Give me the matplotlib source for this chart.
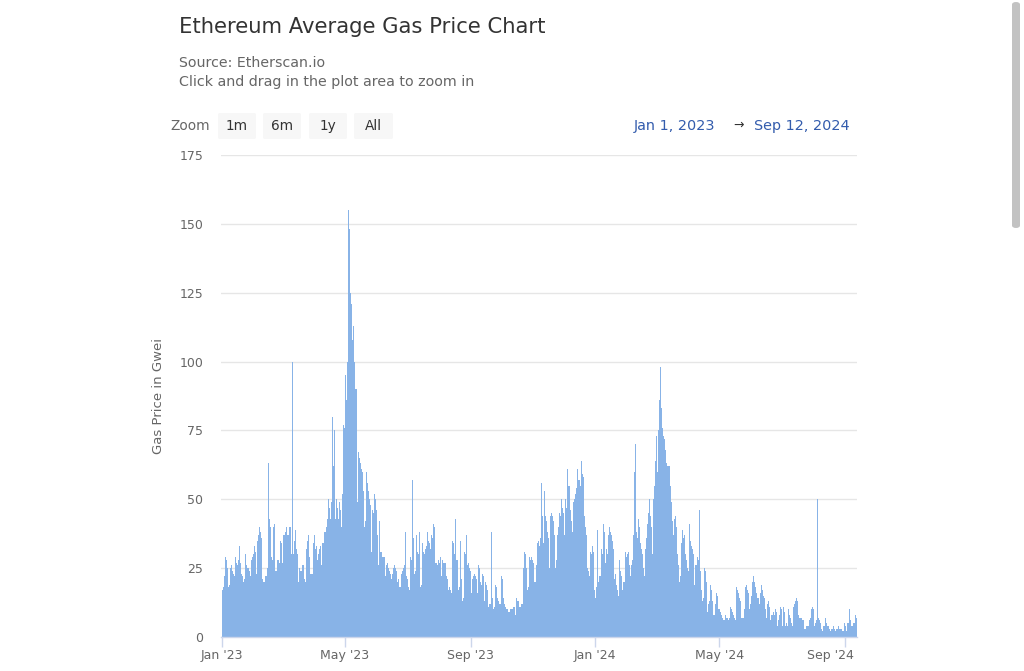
import numpy as np
import matplotlib
matplotlib.use("Agg")
import matplotlib.pyplot as plt
import matplotlib.dates as mdates
from matplotlib.patches import FancyBboxPatch
from matplotlib.transforms import offset_copy

# ---------------- data (daily average gas price, Gwei) ----------------
start_date = "2023-01-01"
end_date = "2024-09-13"  # exclusive

gas_2023 = [
    17, 18, 22, 29, 28, 25, 18, 19, 25, 26,
    24, 23, 22, 29, 27, 26, 28, 33, 27, 23,
    22, 20, 21, 30, 26, 25, 25, 24, 22, 28,
    29, 30, 33, 31, 23, 35, 37, 40, 38, 36,
    21, 20, 20, 22, 25, 63, 43, 40, 29, 28,
    40, 41, 24, 24, 28, 28, 27, 35, 34, 27,
    37, 37, 38, 40, 37, 37, 40, 40, 30, 100,
    30, 35, 39, 32, 30, 20, 25, 24, 24, 26,
    26, 21, 20, 32, 35, 37, 29, 23, 23, 34,
    37, 32, 33, 28, 30, 32, 33, 26, 34, 34,
    38, 38, 40, 43, 50, 47, 43, 49, 80, 62,
    75, 43, 50, 47, 43, 49, 46, 40, 52, 77,
    76, 95, 86, 100, 155, 148, 125, 121, 108, 113,
    100, 90, 49, 67, 65, 63, 61, 60, 53, 40,
    42, 60, 56, 53, 50, 48, 31, 46, 45, 52,
    50, 46, 37, 26, 42, 31, 31, 29, 29, 29,
    22, 26, 27, 25, 24, 23, 21, 23, 25, 26,
    25, 24, 20, 21, 18, 23, 24, 25, 26, 38,
    22, 21, 18, 17, 29, 28, 57, 36, 23, 24,
    37, 31, 30, 38, 18, 19, 34, 31, 30, 32,
    33, 38, 35, 34, 32, 37, 36, 41, 40, 27,
    27, 26, 28, 27, 29, 22, 28, 27, 27, 22,
    21, 17, 18, 17, 16, 35, 34, 30, 43, 28,
    28, 17, 18, 35, 21, 13, 14, 31, 30, 37,
    26, 27, 25, 24, 16, 21, 22, 23, 22, 21,
    16, 26, 25, 20, 19, 23, 22, 13, 20, 19,
    17, 11, 12, 38, 14, 10, 11, 19, 18, 14,
    13, 12, 12, 22, 21, 14, 12, 11, 10, 10,
    9, 9, 10, 10, 10, 11, 11, 8, 14, 13,
    13, 11, 11, 12, 12, 25, 31, 30, 25, 17,
    18, 29, 28, 29, 28, 27, 20, 26, 34, 35,
    33, 36, 56, 44, 34, 53, 44, 42, 38, 36,
    25, 44, 45, 44, 42, 37, 25, 28, 37, 40,
    45, 44, 50, 47, 45, 37, 50, 47, 61, 55,
    55, 46, 42, 38, 49, 50, 52, 54, 61, 57,
    55, 64, 59, 58, 44, 40, 37, 25, 24, 22,
    31, 30, 33, 31, 17,
]

gas_2024 = [
    14, 18, 39, 20, 22,
    22, 32, 30, 41, 38, 27, 32, 30, 37, 40,
    38, 37, 35, 32, 21, 23, 19, 17, 15, 28,
    24, 22, 17, 20, 31, 29, 30, 31, 26, 22,
    26, 28, 37, 60, 70, 38, 36, 43, 40, 34,
    32, 30, 25, 22, 32, 36, 41, 45, 50, 44,
    40, 30, 50, 55, 64, 73, 60, 75, 86, 98,
    83, 76, 73, 72, 68, 63, 62, 62, 55, 49,
    42, 37, 43, 44, 40, 30, 26, 20, 22, 34,
    39, 36, 37, 30, 28, 25, 24, 41, 35, 33,
    32, 30, 19, 26, 26, 29, 28, 46, 24, 17,
    13, 14, 25, 24, 20, 9, 12, 13, 19, 17,
    13, 8, 12, 16, 15, 10, 10, 9, 8, 7,
    6, 6, 8, 7, 7, 6, 7, 11, 10, 9,
    8, 7, 6, 18, 17, 16, 14, 13, 7, 7,
    7, 10, 18, 19, 17, 16, 10, 12, 15, 20,
    22, 20, 18, 16, 14, 12, 16, 19, 17, 15,
    14, 10, 7, 12, 13, 11, 6, 8, 8, 9,
    8, 10, 9, 4, 6, 8, 11, 10, 4, 11,
    9, 4, 5, 4, 10, 8, 7, 5, 4, 11,
    12, 13, 14, 13, 8, 7, 7, 7, 6, 3,
    3, 4, 4, 4, 6, 7, 10, 11, 10, 4,
    5, 6, 50, 7, 6, 5, 3, 2, 4, 4,
    7, 5, 4, 4, 3, 2, 3, 3, 4, 3,
    2, 3, 3, 4, 3, 3, 3, 2, 2, 5,
    4, 2, 5, 10, 6, 4, 4, 5, 5, 8, 7,
]

y_ticks = [0, 25, 50, 75, 100, 125, 150, 175]
x_tick_dates = ["2023-01-01", "2023-05-01", "2023-09-01",
                "2024-01-01", "2024-05-01", "2024-09-01"]
x_tick_labels = ["Jan '23", "May '23", "Sep '23", "Jan '24", "May '24", "Sep '24"]
zoom_buttons = ["1m", "6m", "1y", "All"]

title = "Ethereum Average Gas Price Chart"
subtitle_lines = ["Source: Etherscan.io", "Click and drag in the plot area to zoom in"]
y_label = "Gas Price in Gwei"
range_from = "Jan 1, 2023"
range_to = "Sep 12, 2024"

# ---------------- figure ----------------
W, H = 1024, 671
plt.rcParams["font.family"] = ["DejaVu Sans"]
fig = plt.figure(figsize=(W / 100, H / 100), dpi=100)
fig.patch.set_facecolor("white")


def fx(x):
    return x / W


def fy(y):
    return 1 - y / H


plot_l, plot_r, plot_t, plot_b = 221.3, 856.7, 155, 637
ax = fig.add_axes([fx(plot_l), fy(plot_b), fx(plot_r - plot_l), (plot_b - plot_t) / H])

dates = np.arange(np.datetime64(start_date), np.datetime64(end_date), dtype="datetime64[D]")
values = np.array(gas_2023 + gas_2024, dtype=float)
xnum = mdates.date2num(dates.astype("datetime64[s]").astype(object))

bar_color = "#88b3e7"
ax.bar(xnum, values, width=1.0, color=bar_color, linewidth=0, align="center", zorder=2)

x0 = xnum[0]
ax.set_xlim(x0 - 0.7, xnum[-1] + 0.5)
ax.set_ylim(0, 175)

ax.set_yticks(y_ticks)
ax.set_yticklabels([str(v) for v in y_ticks])
ax.yaxis.grid(True, color="#e6e6e6", linewidth=1.0, zorder=0)
ax.set_axisbelow(True)
ax.tick_params(axis="y", length=0, pad=13, labelsize=9, labelcolor="#666666")

tick_pos = mdates.date2num(np.array(x_tick_dates, dtype="datetime64[s]").astype(object))
ax.set_xticks(tick_pos)
ax.set_xticklabels(x_tick_labels)
ax.tick_params(axis="x", length=7, width=1, color="#ccd6eb", pad=2,
               labelsize=9, labelcolor="#666666")
lbls = ax.get_xticklabels()
lbls[-1].set_transform(offset_copy(lbls[-1].get_transform(), fig=fig, x=-14, y=0, units="dots"))

for s in ["top", "right", "left"]:
    ax.spines[s].set_visible(False)
ax.spines["bottom"].set_color("#ccd6eb")
ax.spines["bottom"].set_linewidth(1)
ax.spines["bottom"].set_zorder(3)

# ---------------- texts ----------------
fig.text(fx(179), fy(27), title, fontsize=15.2, color="#333333", va="center", ha="left")
fig.text(fx(179), fy(63), subtitle_lines[0], fontsize=10.2, color="#666666", va="center", ha="left")
fig.text(fx(179), fy(82), subtitle_lines[1], fontsize=10.3, color="#666666", va="center", ha="left")
fig.text(fx(158), fy((plot_t + plot_b) / 2), y_label, rotation=90, fontsize=9.5,
         color="#666666", va="center", ha="center")

# zoom buttons
fig.text(fx(170), fy(126), "Zoom", fontsize=9.8, color="#666666", va="center", ha="left")
btn_x = [218, 263, 309, 354]
btn_w = [38, 38, 38, 39]
for bx, bw, lab in zip(btn_x, btn_w, zoom_buttons):
    p = FancyBboxPatch((fx(bx), fy(139)), fx(bw), (139 - 113) / H,
                       boxstyle="round,pad=0,rounding_size=0.002",
                       transform=fig.transFigure, facecolor="#f7f7f7",
                       edgecolor="none", zorder=1)
    fig.patches.append(p)
    fig.text(fx(bx + bw / 2), fy(126), lab, fontsize=9.8, color="#333333",
             va="center", ha="center")

fig.text(fx(634), fy(126), range_from, fontsize=10.4, color="#335cad", va="center", ha="left")
fig.text(fx(739), fy(125), "\u2192", fontsize=9, color="#333333", va="center", ha="center")
fig.text(fx(850), fy(126), range_to, fontsize=10.4, color="#335cad", va="center", ha="right")

# browser scrollbar at right edge
fig.patches.append(FancyBboxPatch((fx(1012), fy(228)), fx(8), (228 - 2) / H,
                                  boxstyle="round,pad=0,rounding_size=0.004",
                                  transform=fig.transFigure, facecolor="#c2c2c2",
                                  edgecolor="none"))

fig.savefig("out.png", dpi=100, facecolor="white")
